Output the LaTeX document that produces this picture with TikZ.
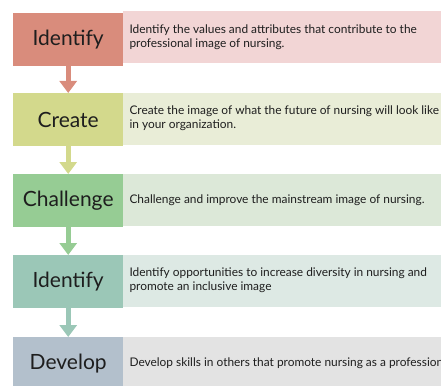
\documentclass[tikz,border=0pt]{standalone}
\usepackage{fontspec}
\setmainfont{Lato}
\usetikzlibrary{arrows.meta}
\definecolor{boxA}{HTML}{D98C7C}\definecolor{panA}{HTML}{F2D5D5}
\definecolor{boxB}{HTML}{D3D98C}\definecolor{panB}{HTML}{E9EDD7}
\definecolor{boxC}{HTML}{96CC94}\definecolor{panC}{HTML}{DCE8D8}
\definecolor{boxD}{HTML}{9BC7B7}\definecolor{panD}{HTML}{DDE9E4}
\definecolor{boxE}{HTML}{B3C0CC}\definecolor{panE}{HTML}{E3E3E3}
\definecolor{ink}{HTML}{1E1E1E}
\tikzset{
  stepbox/.style={minimum width=110pt, minimum height=53pt, inner sep=0pt,
    anchor=north west, font=\fontsize{21}{24}\selectfont, text=ink},
  panel/.style={minimum width=330pt, minimum height=52pt, inner sep=0pt,
    anchor=north west},
  desc/.style={anchor=west, align=left, font=\fontsize{11.9}{13.5}\selectfont, text=ink},
  flow/.style={line width=5pt, -{Triangle[width=17pt,length=12pt]}}
}
\begin{document}
\begin{tikzpicture}[x=1pt,y=-1pt]
\useasboundingbox (0,0) rectangle (441,385);
\clip (0,0) rectangle (441,385);
% background panels
\node[panel, fill=panA] (pa) at (123,11) {};
\node[panel, fill=panB] (pb) at (123,93) {};
\node[panel, fill=panC] (pc) at (123,174) {};
\node[panel, fill=panD] (pd) at (123,255) {};
\node[panel, fill=panE] (pe) at (123,337) {};
% step boxes
\node[stepbox, fill=boxA] (sa) at (13,13) {Identify};
\node[stepbox, fill=boxB] (sb) at (13,93) {Create};
\node[stepbox, fill=boxC] (sc) at (13,174) {Challenge};
\node[stepbox, fill=boxD] (sd) at (13,255) {Identify};
\node[stepbox, fill=boxE] (se) at (13,337) {Develop};
% descriptions
\node[desc] (da) at (126,37) {Identify the values and attributes that contribute to the\\professional image of nursing.};
\node[desc] (db) at (126,118) {Create the image of what the future of nursing will look like\\in your organization.};
\node[desc] (dc) at (126,200) {Challenge and improve the mainstream image of nursing.};
\node[desc] (dd) at (126,280) {Identify opportunities to increase diversity in nursing and\\promote an inclusive image};
\node[desc] (de) at (126,363) {Develop skills in others that promote nursing as a profession};
% connectors
\draw[flow, draw=boxA] (sa.south) -- (sb.north);
\draw[flow, draw=boxB] (sb.south) -- (sc.north);
\draw[flow, draw=boxC] (sc.south) -- (sd.north);
\draw[flow, draw=boxD] (sd.south) -- (se.north);
\end{tikzpicture}
\end{document}
